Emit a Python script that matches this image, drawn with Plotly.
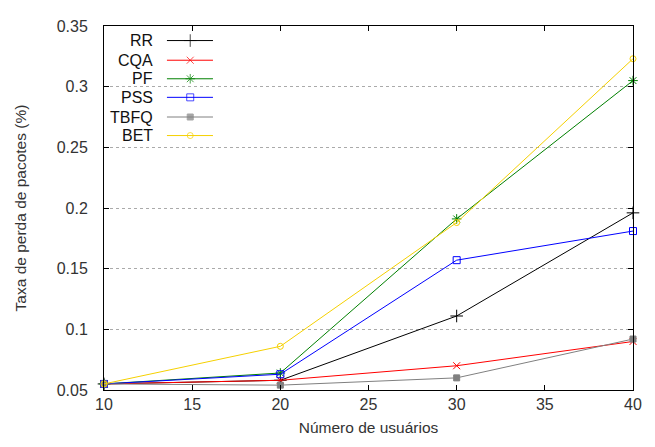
import plotly.graph_objects as go

x_users = [10, 20, 30, 40]
rr = [0.055, 0.058, 0.111, 0.196]
cqa = [0.055, 0.058, 0.070, 0.090]
pf = [0.055, 0.064, 0.191, 0.305]
pss = [0.055, 0.063, 0.157, 0.181]
tbfq = [0.055, 0.054, 0.060, 0.092]
bet = [0.055, 0.086, 0.188, 0.323]

series = [
    ("RR", rr, "#000000", "cross-thin", 9),
    ("CQA", cqa, "#ff0000", "x-thin", 7),
    ("PF", pf, "#008000", "asterisk", 8),
    ("PSS", pss, "#0000ff", "square-open", 7),
    ("TBFQ", tbfq, "#808080", "square", 6),
    ("BET", bet, "#f5d000", "circle-open", 6),
]

y_ticks = [0.05, 0.1, 0.15, 0.2, 0.25, 0.3, 0.35]
y_ticktext = ["0.05", "0.1", "0.15", "0.2", "0.25", "0.3", "0.35"]
x_ticks = [10, 15, 20, 25, 30, 35, 40]

fig = go.Figure()
for name, vals, col, sym, sz in series:
    fig.add_trace(go.Scatter(
        x=x_users, y=vals, mode="lines+markers", name=name,
        line=dict(color=col, width=1),
        marker=dict(symbol=sym, size=sz, color=col,
                    line=dict(color=col, width=1)),
        showlegend=False, cliponaxis=False,
    ))

# custom gnuplot-style legend on an overlay axis
leg_y = [0.960, 0.906, 0.855, 0.804, 0.750, 0.699]
for (name, vals, col, sym, sz), yy in zip(series, leg_y):
    fig.add_trace(go.Scatter(
        x=[0.119, 0.163, 0.206], y=[yy, yy, yy], mode="lines+markers",
        xaxis="x2", yaxis="y2",
        line=dict(color=col, width=1),
        marker=dict(symbol=sym, size=[0, sz, 0], color=col,
                    line=dict(color=col, width=1)),
        showlegend=False, hoverinfo="skip",
    ))
    fig.add_annotation(x=0.096, y=yy, xref="x2", yref="y2", text=name,
                       showarrow=False, xanchor="right", yanchor="middle",
                       font=dict(size=16, color="#111111"))

tick_font = dict(family="Liberation Sans, Arial, sans-serif", size=16, color="#333333")
title_font = dict(family="Liberation Sans, Arial, sans-serif", size=15.5, color="#333333")

fig.update_layout(
    width=655, height=447,
    margin=dict(l=96, r=30, t=10, b=65),
    paper_bgcolor="white", plot_bgcolor="white",
    font=dict(family="Liberation Sans, Arial, sans-serif", size=16, color="#333333"),
    xaxis=dict(
        range=[10, 40], tickvals=x_ticks, ticks="inside", ticklen=5,
        tickcolor="#000000", showline=True, linecolor="#000000", linewidth=1,
        mirror="ticks", showgrid=False, zeroline=False,
        title=dict(text="Número de usuários", standoff=9, font=title_font),
        tickfont=tick_font,
    ),
    yaxis=dict(
        range=[0.05, 0.35], tickvals=y_ticks, ticktext=y_ticktext,
        ticks="inside", ticklen=5, tickcolor="#000000",
        showline=True, linecolor="#000000", linewidth=1, mirror="ticks",
        showgrid=True, gridcolor="#aaaaaa", griddash="dot", gridwidth=1,
        zeroline=False, ticklabelstandoff=12,
        title=dict(text="Taxa de perda de pacotes (%)", standoff=26, font=title_font),
        tickfont=tick_font,
    ),
    xaxis2=dict(range=[0, 1], overlaying="x", visible=False, fixedrange=True),
    yaxis2=dict(range=[0, 1], overlaying="y", visible=False, fixedrange=True),
)

fig.write_html("out.html")
